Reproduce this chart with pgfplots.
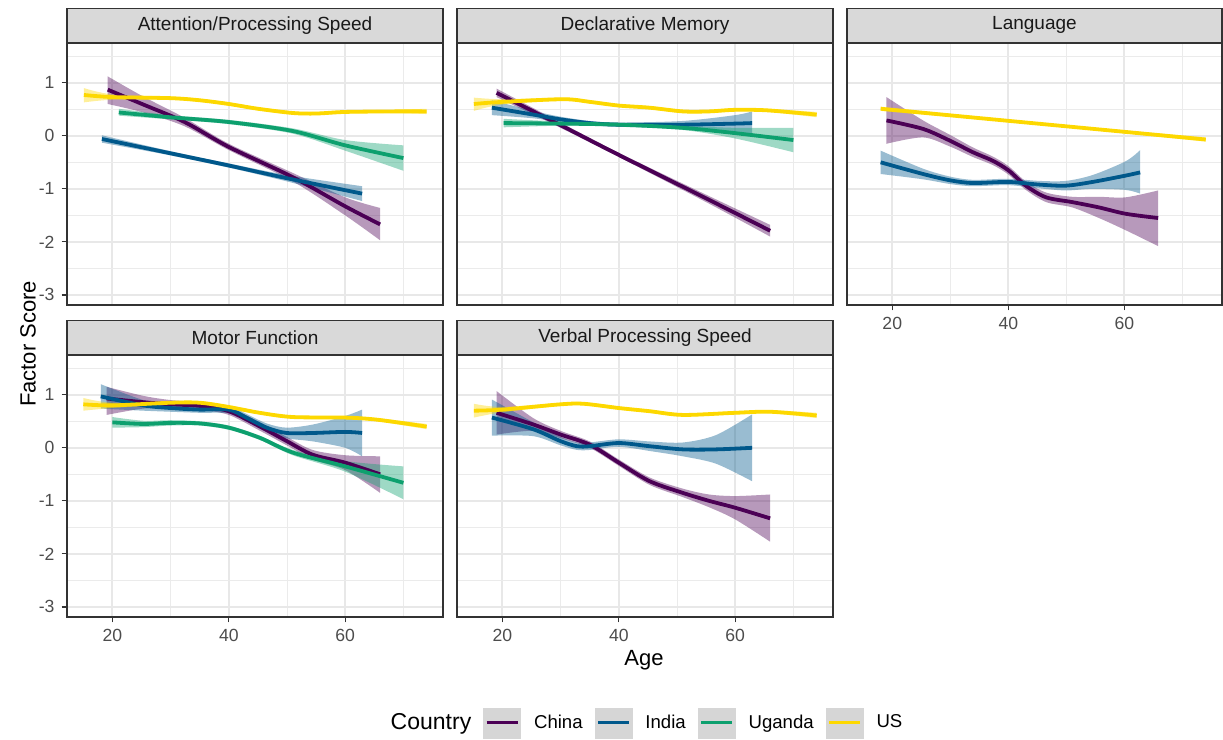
\documentclass[border=0pt]{standalone}
\usepackage{fontspec}
\setmainfont{Liberation Sans}
\usepackage{pgfplots}
\usepackage{pgfplotstable}
\pgfplotsset{compat=1.18}
\usepgfplotslibrary{fillbetween}

\definecolor{cChina}{HTML}{4B0055}
\definecolor{cIndia}{HTML}{00588B}
\definecolor{cUganda}{HTML}{0DA06E}
\definecolor{cUS}{HTML}{FDD800}

% --- Attention/Processing Speed
\pgfplotstableread{
x y lo hi
19.2 0.87 0.60 1.12
25.3 0.59 0.44 0.74
32.4 0.26 0.18 0.34
40 -0.21 -0.27 -0.15
51 -0.78 -0.86 -0.70
60 -1.33 -1.50 -1.16
66 -1.67 -1.97 -1.36
}\apC
\pgfplotstableread{
x y lo hi
18.2 -0.06 -0.13 0.01
30 -0.33 -0.37 -0.29
40 -0.56 -0.60 -0.52
50 -0.80 -0.86 -0.74
62.9 -1.09 -1.23 -0.95
}\apI
\pgfplotstableread{
x y lo hi
21.1 0.44 0.38 0.51
29.9 0.35 0.31 0.39
40 0.26 0.22 0.30
51 0.09 0.04 0.14
60 -0.18 -0.28 -0.08
70 -0.42 -0.66 -0.18
}\apU
\pgfplotstableread{
x y lo hi
15.1 0.77 0.63 0.90
20 0.73 0.68 0.78
30 0.71 0.68 0.74
35 0.67 0.64 0.70
40 0.60 0.57 0.63
45 0.51 0.48 0.54
51 0.43 0.40 0.46
55 0.42 0.39 0.45
60 0.45 0.42 0.48
68 0.46 0.43 0.49
74 0.46 0.41 0.51
}\apS

% --- Declarative Memory
\pgfplotstableread{
x y lo hi
19 0.81 0.73 0.89
30 0.20 0.15 0.25
40 -0.36 -0.40 -0.32
55 -1.18 -1.25 -1.11
66 -1.79 -1.90 -1.68
}\dmC
\pgfplotstableread{
x y lo hi
18.2 0.53 0.39 0.67
25.3 0.40 0.33 0.47
30 0.31 0.26 0.36
35 0.24 0.20 0.28
40 0.21 0.17 0.25
51 0.21 0.14 0.28
60 0.23 0.07 0.39
62.9 0.24 0.02 0.46
}\dmI
\pgfplotstableread{
x y lo hi
20.2 0.24 0.16 0.32
30 0.23 0.19 0.27
40 0.21 0.18 0.24
51 0.15 0.11 0.19
60 0.05 -0.05 0.15
70 -0.08 -0.31 0.15
}\dmU
\pgfplotstableread{
x y lo hi
15.1 0.60 0.47 0.72
20 0.64 0.59 0.69
30.5 0.69 0.66 0.72
35 0.64 0.61 0.67
40 0.57 0.54 0.60
45.3 0.53 0.50 0.56
51 0.46 0.43 0.49
55.5 0.46 0.43 0.49
60 0.49 0.46 0.52
65.5 0.48 0.45 0.51
74 0.40 0.35 0.45
}\dmS

% --- Language
\pgfplotstableread{
x y lo hi
19 0.29 -0.15 0.73
25.3 0.13 -0.03 0.29
29.9 -0.09 -0.20 0.02
33.9 -0.31 -0.40 -0.22
37.3 -0.47 -0.55 -0.39
40 -0.65 -0.73 -0.57
43 -0.94 -1.02 -0.86
46.5 -1.16 -1.25 -1.07
51 -1.25 -1.35 -1.15
55.6 -1.35 -1.55 -1.15
60.2 -1.47 -1.78 -1.16
65.8 -1.55 -2.08 -1.03
}\laC
\pgfplotstableread{
x y lo hi
18 -0.50 -0.72 -0.28
25.3 -0.72 -0.82 -0.62
30 -0.84 -0.91 -0.77
33.9 -0.89 -0.95 -0.83
40 -0.87 -0.93 -0.81
45.3 -0.92 -0.99 -0.85
49.9 -0.94 -1.03 -0.85
54.5 -0.87 -1.00 -0.74
60.2 -0.75 -1.02 -0.48
62.7 -0.69 -1.09 -0.27
}\laI
\pgfplotstableread{
x y lo hi
18 0.51 0.47 0.55
46 0.22 0.20 0.24
74 -0.07 -0.11 -0.03
}\laS

% --- Motor Function
\pgfplotstableread{
x y lo hi
19 0.93 0.62 1.15
25.3 0.86 0.74 0.98
30 0.82 0.74 0.90
35 0.79 0.72 0.86
40 0.69 0.62 0.76
45.2 0.41 0.33 0.49
49.9 0.13 0.05 0.21
54.4 -0.13 -0.22 -0.04
60 -0.28 -0.42 -0.14
66 -0.50 -0.85 -0.16
}\mfC
\pgfplotstableread{
x y lo hi
18 0.97 0.74 1.20
25.3 0.80 0.70 0.90
30 0.75 0.68 0.82
35 0.72 0.66 0.78
40 0.72 0.65 0.79
43 0.57 0.50 0.64
46.5 0.38 0.30 0.46
49.9 0.28 0.18 0.38
54.5 0.28 0.12 0.44
60 0.30 0.00 0.60
62.9 0.28 -0.16 0.72
}\mfI
\pgfplotstableread{
x y lo hi
20 0.48 0.38 0.58
25.3 0.45 0.39 0.51
30 0.47 0.42 0.52
35 0.46 0.42 0.50
40 0.38 0.34 0.42
45.3 0.19 0.15 0.23
51 -0.09 -0.14 -0.04
60 -0.35 -0.45 -0.25
70 -0.66 -0.97 -0.35
}\mfU
\pgfplotstableread{
x y lo hi
15 0.82 0.70 0.94
20 0.80 0.75 0.85
30 0.85 0.82 0.88
35 0.85 0.82 0.88
40 0.77 0.74 0.80
45.3 0.66 0.63 0.69
51 0.58 0.55 0.61
60 0.57 0.54 0.60
65.5 0.53 0.50 0.56
74 0.40 0.35 0.45
}\mfS

% --- Verbal Processing Speed
\pgfplotstableread{
x y lo hi
19 0.66 0.25 1.07
25.3 0.44 0.32 0.56
30 0.25 0.18 0.32
35 0.06 0.00 0.12
40 -0.28 -0.34 -0.22
45.3 -0.63 -0.70 -0.56
51 -0.85 -0.93 -0.77
55.5 -1.00 -1.12 -0.88
60 -1.13 -1.35 -0.91
66 -1.33 -1.77 -0.88
}\vpC
\pgfplotstableread{
x y lo hi
18.2 0.57 0.23 0.91
25.3 0.35 0.22 0.48
29.9 0.13 0.05 0.21
32.8 0.03 -0.04 0.10
35 0.03 -0.04 0.10
40 0.09 0.02 0.16
45.3 0.03 -0.06 0.12
51 -0.03 -0.16 0.10
56.7 -0.03 -0.30 0.24
62.9 0.00 -0.63 0.63
}\vpI
\pgfplotstableread{
x y lo hi
15.1 0.70 0.57 0.83
20 0.72 0.67 0.77
30 0.82 0.79 0.85
34 0.83 0.80 0.86
40 0.75 0.72 0.78
45.3 0.69 0.66 0.72
51 0.62 0.59 0.65
60 0.66 0.63 0.69
66 0.68 0.65 0.71
74 0.61 0.56 0.66
}\vpS

% ribbon + smooth line for one country
\newcommand{\series}[2]{%
  \addplot[draw=none, smooth, name path=up, forget plot] table[x=x, y=hi]{#1};
  \addplot[draw=none, smooth, name path=dn, forget plot] table[x=x, y=lo]{#1};
  \addplot[fill=#2, fill opacity=0.4, draw=none, forget plot] fill between[of=up and dn];
  \addplot[#2, line width=1.9pt, smooth, forget plot] table[x=x, y=y]{#1};
}

\pgfplotsset{
  panel/.style={
    scale only axis, width=188pt, height=131pt, anchor=south west,
    xmin=12.2, xmax=76.8, ymin=-3.19, ymax=1.75,
    xtick={20,40,60}, ytick={-3,-2,-1,0,1},
    minor xtick={10,30,50,70}, minor ytick={-2.5,-1.5,-0.5,0.5,1.5},
    xticklabels={20,40,60}, yticklabels={-3,-2,-1,0,1},
    grid=both,
    major grid style={color=black!9, line width=1pt},
    minor grid style={color=black!8, line width=0.5pt},
    axis line style={black!80, line width=0.6pt},
    tick align=outside, xtick pos=bottom, ytick pos=left,
    major tick length=2.75pt, minor tick length=0pt,
    tick style={black!80, line width=0.6pt},
    tick label style={font=\fontsize{8.8}{10}\selectfont, text=black!70},
    title style={at={(0.5,1)}, anchor=south, yshift=-6pt, draw=black!80,
      fill=black!15, line width=0.6pt, minimum width=188pt, minimum height=17pt,
      inner sep=0pt, text=black!90, font=\fontsize{9.5}{11}\selectfont},
  },
  noxt/.style={xmajorticks=false},
  noyt/.style={ymajorticks=false},
}

\begin{document}
\begin{tikzpicture}

\begin{axis}[panel, noxt, at={(33.5pt,217.5pt)}, title={Attention/Processing Speed}]
\series{\apC}{cChina}
\series{\apI}{cIndia}
\series{\apU}{cUganda}
\series{\apS}{cUS}
\end{axis}

\begin{axis}[panel, noxt, noyt, at={(228.5pt,217.5pt)}, title={Declarative Memory}]
\series{\dmC}{cChina}
\series{\dmI}{cIndia}
\series{\dmU}{cUganda}
\series{\dmS}{cUS}
\end{axis}

\begin{axis}[panel, noyt, width=187.5pt, at={(423.5pt,217.5pt)},
  title style={minimum width=187.5pt}, title={Language}]
\series{\laC}{cChina}
\series{\laI}{cIndia}
\series{\laS}{cUS}
\end{axis}

\begin{axis}[panel, at={(33.5pt,61.5pt)}, title={Motor Function}]
\series{\mfC}{cChina}
\series{\mfI}{cIndia}
\series{\mfU}{cUganda}
\series{\mfS}{cUS}
\end{axis}

\begin{axis}[panel, noyt, at={(228.5pt,61.5pt)}, title={Verbal Processing Speed}]
\series{\vpC}{cChina}
\series{\vpI}{cIndia}
\series{\vpS}{cUS}
\end{axis}

\node[rotate=90, font=\fontsize{11}{13}\selectfont] at (14pt,198pt) {Factor Score};
\node[font=\fontsize{11}{13}\selectfont] at (322pt,40pt) {Age};

% legend
\begin{axis}[hide axis, scale only axis, width=611.5pt, height=17pt,
  at={(0pt,0pt)}, anchor=south west, xmin=0, xmax=1, ymin=0, ymax=1,
  legend columns=5,
  legend image code/.code={%
    \fill[black!16] (0pt,-7.5pt) rectangle (18.5pt,7.5pt);
    \draw[#1, line width=1.5pt] (1.5pt,0pt) -- (17pt,0pt);},
  legend style={draw=none, fill=none, at={(0.525,0.5)}, anchor=center,
    font=\fontsize{9.3}{11}\selectfont,
    /tikz/every odd column/.append style={column sep=4.5pt},
    /tikz/every even column/.append style={column sep=4pt}}]
\addplot[draw=none, forget plot] coordinates {(0,0) (1,1)};
\addlegendimage{empty legend}
\addlegendentry{\fontsize{11.5}{13}\selectfont Country}
\addlegendimage{cChina}
\addlegendentry{China}
\addlegendimage{cIndia}
\addlegendentry{India}
\addlegendimage{cUganda}
\addlegendentry{Uganda}
\addlegendimage{cUS}
\addlegendentry{US}
\end{axis}

\pgfresetboundingbox
\path[use as bounding box] (0,0) rectangle (611.5pt,370pt);
\end{tikzpicture}
\end{document}
